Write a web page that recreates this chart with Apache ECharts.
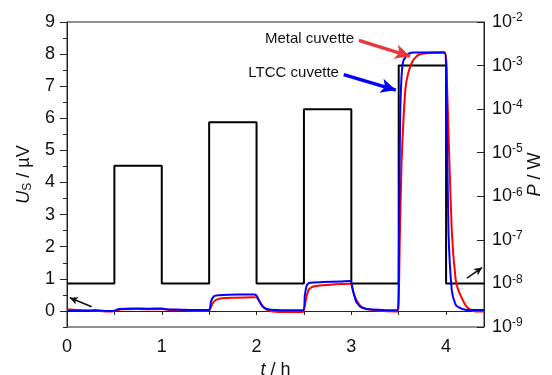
<!DOCTYPE html>
<html>
<head>
<meta charset="utf-8">
<script src="https://cdn.jsdelivr.net/npm/echarts@6/dist/echarts.min.js"></script>
<style>
  html, body { margin: 0; padding: 0; background: #fff; }
  #chart { width: 552px; height: 375px; }
</style>
</head>
<body>
<div id="chart"></div>
<script>
// tick positions
const tTicks = [0, 0.5, 1, 1.5, 2, 2.5, 3, 3.5, 4];
const tLabels = [0, 1, 2, 3, 4];
const uLabels = [0, 1, 2, 3, 4, 5, 6, 7, 8, 9];

// heating power steps (t / h, P / W), held until the next point
const powerSteps = [
    [0, 1e-8], [0.5, 5e-6], [1, 1e-8], [1.5, 5e-5], [2, 1e-8],
    [2.5, 1e-4], [3, 1e-8], [3.5, 1e-3], [4, 1e-8], [4.4, 1e-8]
];

// sensor signal, metal cuvette (t / h, U / µV)
const metalU = [
    [0, 0.05], [0.1, 0.03], [0.2, 0.02], [0.35, 0.0], [0.45, -0.02], [0.5, 0.0],
    [0.58, 0.05], [0.75, 0.06], [0.9, 0.05], [1.0, 0.06], [1.08, 0.03], [1.25, 0.02],
    [1.4, 0.01], [1.5, 0.02], [1.53, 0.2], [1.57, 0.34], [1.62, 0.39], [1.75, 0.41],
    [1.95, 0.43], [2.0, 0.42], [2.04, 0.25], [2.08, 0.1], [2.14, 0.0], [2.3, -0.03],
    [2.49, -0.03], [2.52, 0.35], [2.55, 0.66], [2.6, 0.76], [2.7, 0.8], [2.9, 0.84],
    [2.99, 0.85], [3.03, 0.5], [3.07, 0.25], [3.12, 0.1], [3.25, 0.02], [3.49, -0.02],
    [3.5, 0.3], [3.51, 2.0], [3.53, 4.6], [3.57, 6.9], [3.6, 7.4], [3.65, 7.8],
    [3.71, 7.98], [3.8, 8.03], [3.99, 8.04], [4.01, 7.0], [4.025, 5.6], [4.06, 2.5],
    [4.1, 1.0], [4.13, 0.64], [4.22, 0.12], [4.31, -0.02], [4.4, -0.02]
];

// sensor signal, LTCC cuvette (t / h, U / µV)
const ltccU = [
    [0, 0.0], [0.1, 0.01], [0.2, 0.0], [0.3, 0.02], [0.45, 0.0], [0.5, 0.01],
    [0.55, 0.06], [0.7, 0.08], [0.85, 0.07], [1.0, 0.08], [1.05, 0.05], [1.2, 0.04],
    [1.35, 0.03], [1.5, 0.03], [1.52, 0.3], [1.55, 0.46], [1.6, 0.49], [1.8, 0.51],
    [1.97, 0.51], [2.0, 0.48], [2.03, 0.3], [2.07, 0.12], [2.12, 0.05], [2.3, 0.02],
    [2.49, 0.02], [2.51, 0.5], [2.53, 0.8], [2.56, 0.88], [2.7, 0.9], [2.9, 0.92],
    [2.99, 0.93], [3.02, 0.6], [3.05, 0.3], [3.1, 0.12], [3.2, 0.05], [3.35, 0.03],
    [3.49, 0.02], [3.5, 1.0], [3.505, 3.0], [3.515, 6.0], [3.53, 7.3], [3.55, 7.8],
    [3.6, 8.0], [3.65, 8.05], [3.98, 8.06], [4.0, 7.6], [4.01, 5.6], [4.025, 2.5],
    [4.06, 0.64], [4.1, 0.2], [4.13, 0.12], [4.2, 0.04], [4.4, 0.03]
];

// annotation arrows, [start, end] in (t, U) units
const metalArrow = [[3.08, 8.43], [3.62, 7.93]];
const ltccArrow = [[2.92, 7.36], [3.47, 6.88]];
const leftArrow = [[0.26, 0.13], [0.03, 0.41]];
const rightArrow = [[4.22, 1.02], [4.38, 1.35]];

const axisColor = '#222';
const font = 'Liberation Sans, Arial, sans-serif';

const chart = echarts.init(document.getElementById('chart'));

function arrowLine(pts, color, width, size, text) {
    return {
        silent: true,
        symbol: ['none', 'arrow'],
        symbolSize: size,
        lineStyle: { color: color, width: width, type: 'solid' },
        label: text ? {
            show: true, position: 'start', formatter: text, distance: 5,
            color: '#111', fontSize: 15, fontFamily: font
        } : { show: false },
        emphasis: { disabled: true },
        data: [[{ coord: pts[0] }, { coord: pts[1] }]]
    };
}

const option = {
    animation: false,
    grid: {
        left: 67, right: 68, top: 22, bottom: 48,
        outerBoundsMode: 'none', containLabel: false,
        show: true, borderColor: axisColor, borderWidth: 1
    },
    xAxis: {
        type: 'value', min: 0, max: 4.4,
        name: '{i|t} / h', nameLocation: 'middle', nameGap: 26,
        nameTextStyle: {
            fontSize: 18, color: '#111', fontFamily: font,
            rich: { i: { fontStyle: 'italic', fontSize: 18, fontFamily: font, color: '#111' } }
        },
        axisLine: { lineStyle: { color: axisColor } },
        axisTick: { length: 4, customValues: tTicks, lineStyle: { color: axisColor } },
        axisLabel: { customValues: tLabels, fontSize: 18, color: '#111', fontFamily: font, margin: 11 },
        splitLine: { show: false }
    },
    yAxis: [
        {
            type: 'value', min: -0.5, max: 9, interval: 0.5, position: 'left',
            name: '{i|U}{s|S} / µV', nameLocation: 'middle', nameGap: 33, nameRotate: 90,
            nameTextStyle: {
                fontSize: 18, color: '#111', fontFamily: font,
                rich: {
                    i: { fontStyle: 'italic', fontSize: 18, fontFamily: font, color: '#111' },
                    s: { fontSize: 12, fontFamily: font, color: '#111', verticalAlign: 'bottom', padding: [8, 0, 0, 0] }
                }
            },
            axisLine: { show: true, lineStyle: { color: axisColor } },
            axisTick: { length: 4, lineStyle: { color: axisColor } },
            axisLabel: { show: false },
            splitLine: { show: false }
        },
        {
            type: 'log', logBase: 10, min: 1e-9, max: 1e-2, position: 'right',
            name: '{i|P} / W', nameLocation: 'middle', nameGap: 42, nameRotate: 90,
            nameMoveOverlap: false,
            nameTextStyle: {
                fontSize: 18, color: '#111', fontFamily: font,
                rich: { i: { fontStyle: 'italic', fontSize: 18, fontFamily: font, color: '#111' } }
            },
            axisLine: { show: true, lineStyle: { color: axisColor } },
            axisTick: { inside: true, length: 7, lineStyle: { color: axisColor } },
            axisLabel: {
                margin: 8,
                formatter: function (v) {
                    return '{b|10}{e|' + Math.round(Math.log10(v)) + '}';
                },
                rich: {
                    b: { fontSize: 18, fontFamily: font, color: '#111', lineHeight: 20 },
                    e: { fontSize: 12, fontFamily: font, color: '#111', verticalAlign: 'top', lineHeight: 12 }
                }
            },
            splitLine: { show: false }
        },
        {
            type: 'value', min: -0.5, max: 9, position: 'left',
            axisLine: { show: false },
            axisTick: { length: 7, customValues: uLabels, lineStyle: { color: axisColor } },
            axisLabel: { customValues: uLabels, fontSize: 18, color: '#111', fontFamily: font, margin: 12 },
            splitLine: { show: false }
        }
    ],
    series: [
        {
            name: 'P', type: 'line', yAxisIndex: 1, step: 'end',
            data: powerSteps, showSymbol: false, silent: true,
            lineStyle: { color: '#000', width: 2 }
        },
        {
            name: 'Metal cuvette', type: 'line', yAxisIndex: 0,
            data: metalU, showSymbol: false, silent: true, smooth: 0.2,
            lineStyle: { color: '#ff0000', width: 2 },
            markLine: arrowLine(metalArrow, '#e8383d', 3.5, [11, 15], 'Metal cuvette')
        },
        {
            name: 'LTCC cuvette', type: 'line', yAxisIndex: 0,
            data: ltccU, showSymbol: false, silent: true, smooth: 0.2,
            lineStyle: { color: '#0000ff', width: 2 },
            markLine: arrowLine(ltccArrow, '#0000ff', 3.5, [11, 15], 'LTCC cuvette')
        },
        {
            name: 'arrows left', type: 'line', yAxisIndex: 0,
            data: [leftArrow[0]], showSymbol: false, silent: true,
            lineStyle: { width: 0 },
            markLine: arrowLine(leftArrow, '#111', 1.5, [6, 8], null)
        },
        {
            name: 'arrows right', type: 'line', yAxisIndex: 0,
            data: [rightArrow[0]], showSymbol: false, silent: true,
            lineStyle: { width: 0 },
            markLine: arrowLine(rightArrow, '#111', 1.5, [6, 8], null)
        }
    ]
};

chart.setOption(option);
</script>
</body>
</html>
